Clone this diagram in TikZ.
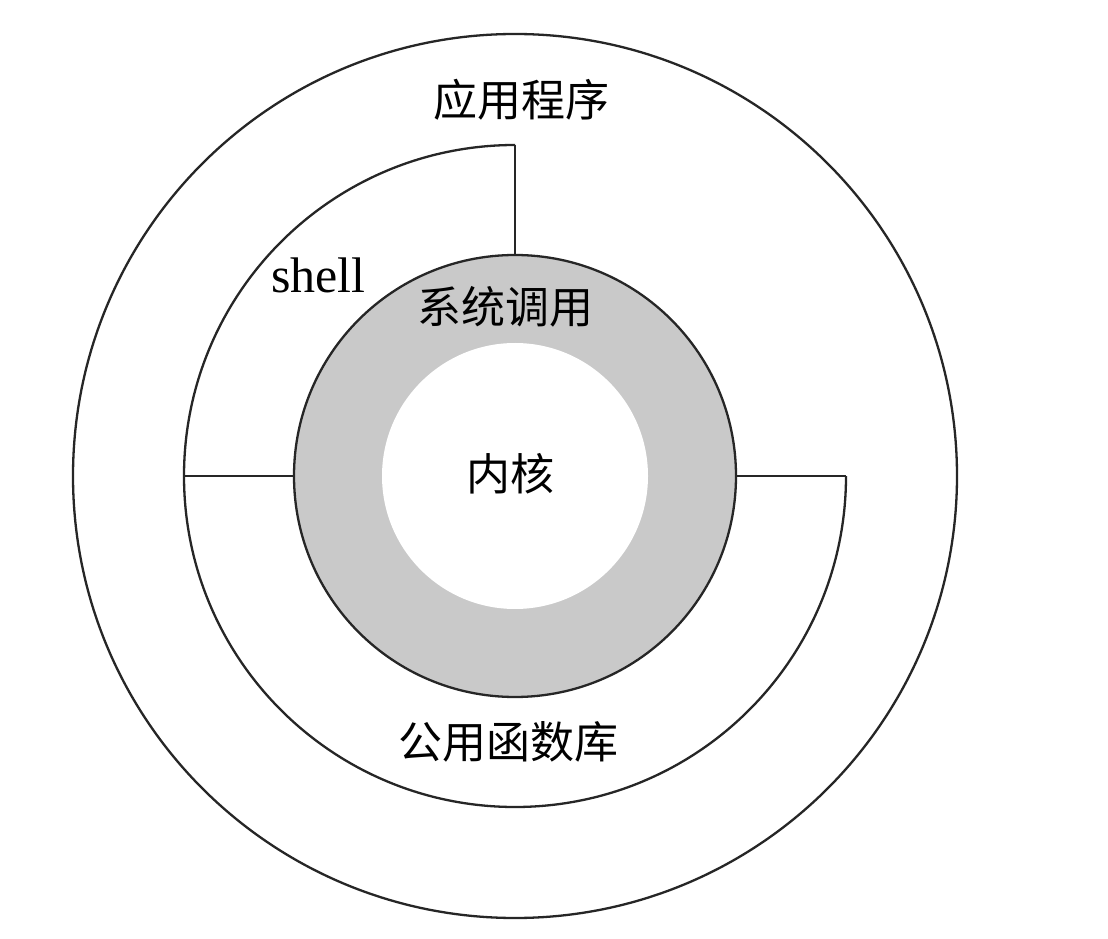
\documentclass[tikz,border=0pt]{standalone}
\usepackage{fontspec}
\newfontfamily\cjk{Noto Sans CJK SC}
\newfontfamily\latserif{Liberation Serif}
\definecolor{ringgray}{HTML}{C9C9C9}
\tikzset{
  ln/.style={line width=2.3pt, draw=black!85},
  cjklabel/.style={font=\cjk\fontsize{44}{52}\selectfont, inner sep=0pt},
  latlabel/.style={font=\latserif\fontsize{50}{58}\selectfont, inner sep=0pt}
}
\begin{document}
\begin{tikzpicture}[x=1pt,y=1pt]
\useasboundingbox (0,0) rectangle (1108,938);
\fill[white] (0,0) rectangle (1108,938);
\coordinate (c) at (515,462);
% outer circle
\draw[ln] (c) circle[radius=442];
% kernel rings
\fill[ringgray] (c) circle[radius=221];
\fill[white] (c) circle[radius=133];
\draw[ln] (c) circle[radius=221];
% shell arc
\coordinate (shtop) at (515,793);
\coordinate (grtop) at (515,683);
\coordinate (midleft) at (184,462);
\coordinate (grleft) at (294,462);
\coordinate (midright) at (846,462);
\coordinate (grright) at (736,462);
\draw[ln] (shtop) arc[start angle=90, end angle=180, radius=331];
\draw[ln] (shtop) -- (grtop);
\draw[ln] (midleft) -- (grleft);
\draw[ln] (midleft) arc[start angle=180, end angle=360, radius=331];
\draw[ln] (midright) -- (grright);
% labels
\node[cjklabel] (app) at (521,838) {应用程序};
\node[latlabel, anchor=base west] (shell) at (271,645) {shell};
\node[cjklabel] (sys) at (505,631) {系统调用};
\node[cjklabel] (kern) at (510,464) {内核};
\node[cjklabel] (lib) at (508,196) {公用函数库};
\end{tikzpicture}
\end{document}
